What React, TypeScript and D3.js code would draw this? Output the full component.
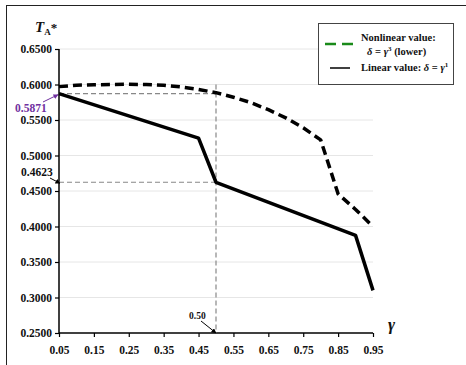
import React, { useEffect, useRef } from 'react';
import * as d3 from 'd3';

const linearX = [0.05, 0.45, 0.5, 0.9, 0.95];
const linearY = [0.5871, 0.5245, 0.4623, 0.3875, 0.31];

const nonlinearX = [0.05, 0.1, 0.15, 0.2, 0.25, 0.3, 0.35, 0.4, 0.45, 0.5, 0.55, 0.6, 0.65, 0.7, 0.75, 0.8, 0.85, 0.9, 0.95];
const nonlinearY = [0.597, 0.599, 0.5997, 0.6, 0.6003, 0.6, 0.599, 0.5965, 0.593, 0.5885, 0.582, 0.5745, 0.5645, 0.553, 0.539, 0.522, 0.446, 0.424, 0.4];

const xTicks = [0.05, 0.15, 0.25, 0.35, 0.45, 0.55, 0.65, 0.75, 0.85, 0.95];
const yTicks = [0.25, 0.3, 0.35, 0.4, 0.45, 0.5, 0.55, 0.6, 0.65];

const W = 466;
const H = 365;

const App: React.FC = () => {
  const svgRef = useRef<SVGSVGElement>(null);

  useEffect(() => {
    if (!svgRef.current) return;
    const svg = d3.select(svgRef.current);
    svg.selectAll('*').remove();

    const font = '"Liberation Serif", "Times New Roman", serif';
    const x = d3.scaleLinear().domain([0.05, 0.95]).range([59, 373]);
    const y = d3.scaleLinear().domain([0.25, 0.65]).range([333, 49]);

    // outer frame
    svg.append('rect')
      .attr('x', 6.5).attr('y', 5.5)
      .attr('width', W + 10).attr('height', H + 10)
      .attr('fill', '#fff').attr('stroke', '#222').attr('stroke-width', 1);

    // grid
    svg.append('g')
      .selectAll('line')
      .data(yTicks.slice(1))
      .enter()
      .append('line')
      .attr('x1', x(0.05)).attr('x2', x(0.95))
      .attr('y1', d => y(d)).attr('y2', d => y(d))
      .attr('stroke', '#e6e6e6').attr('stroke-width', 1);

    // axes
    const yAxis = svg.append('g')
      .attr('transform', `translate(${x(0.05)},0)`)
      .call(d3.axisLeft(y).tickValues(yTicks).tickSize(4).tickFormat(d => d3.format('.4f')(d as number)));
    const xAxis = svg.append('g')
      .attr('transform', `translate(0,${y(0.25)})`)
      .call(d3.axisBottom(x).tickValues(xTicks).tickSize(4).tickFormat(d => d3.format('.2f')(d as number)));
    [yAxis, xAxis].forEach(a => {
      a.select('.domain').attr('stroke', '#000').attr('stroke-width', 1.5);
      a.selectAll('.tick line').attr('stroke', '#000').attr('stroke-width', 1.2);
      a.selectAll('.tick text')
        .attr('font-family', font).attr('font-weight', 'bold')
        .attr('font-size', 11.5).attr('fill', '#111');
    });
    yAxis.select('.domain').attr('d', `M0,${y(0.65)}V${y(0.25)}`);
    yAxis.selectAll('.tick text').attr('x', -7);
    xAxis.select('.domain').attr('d', `M${x(0.05)},0H${x(0.95)}`);
    xAxis.selectAll('.tick text').attr('y', 13);

    // reference lines
    const ref = svg.append('g')
      .attr('stroke', '#888').attr('stroke-width', 1.2)
      .attr('stroke-dasharray', '5,3').attr('fill', 'none');
    ref.append('line')
      .attr('x1', x(0.05)).attr('x2', x(0.5))
      .attr('y1', y(0.5871)).attr('y2', y(0.5871));
    ref.append('line')
      .attr('x1', x(0.05)).attr('x2', x(0.5))
      .attr('y1', y(0.4623)).attr('y2', y(0.4623));
    ref.append('line')
      .attr('x1', x(0.5)).attr('x2', x(0.5))
      .attr('y1', y(0.6)).attr('y2', y(0.25));

    // series
    const line = d3.line<number>()
      .x((_, i) => x(linearX[i]))
      .y(d => y(d));
    svg.append('path')
      .datum(linearY)
      .attr('fill', 'none').attr('stroke', '#000')
      .attr('stroke-width', 3.5).attr('stroke-linejoin', 'round')
      .attr('d', line);

    const curve = d3.line<number>()
      .x((_, i) => x(nonlinearX[i]))
      .y(d => y(d));
    svg.append('path')
      .datum(nonlinearY)
      .attr('fill', 'none').attr('stroke', '#000')
      .attr('stroke-width', 3.5).attr('stroke-dasharray', '9,5')
      .attr('stroke-linejoin', 'round')
      .attr('d', curve);

    // arrow markers
    const defs = svg.append('defs');
    const marker = (id: string, color: string) =>
      defs.append('marker')
        .attr('id', id).attr('viewBox', '0 0 10 10')
        .attr('refX', 9).attr('refY', 5)
        .attr('markerWidth', 5).attr('markerHeight', 5)
        .attr('orient', 'auto')
        .append('path').attr('d', 'M0,0L10,5L0,10Z').attr('fill', color);
    marker('arrP', '#7030a0');
    marker('arrK', '#000');

    // annotations
    svg.append('line')
      .attr('x1', 43).attr('y1', 102).attr('x2', x(0.05) - 1).attr('y2', y(0.5871) + 1)
      .attr('stroke', '#7030a0').attr('stroke-width', 1).attr('marker-end', 'url(#arrP)');
    svg.append('text')
      .attr('x', 15).attr('y', 112)
      .attr('font-family', font).attr('font-weight', 'bold').attr('font-size', 11.5)
      .attr('fill', '#7030a0').text('0.5871');

    svg.append('line')
      .attr('x1', 50).attr('y1', 178).attr('x2', x(0.05) + 1).attr('y2', y(0.4623) + 1)
      .attr('stroke', '#000').attr('stroke-width', 1).attr('marker-end', 'url(#arrK)');
    svg.append('text')
      .attr('x', 21).attr('y', 176)
      .attr('font-family', font).attr('font-weight', 'bold').attr('font-size', 11.5)
      .attr('fill', '#111').text('0.4623');

    svg.append('line')
      .attr('x1', 201).attr('y1', 321).attr('x2', x(0.5)).attr('y2', y(0.25))
      .attr('stroke', '#000').attr('stroke-width', 1).attr('marker-end', 'url(#arrK)');
    svg.append('text')
      .attr('x', 189).attr('y', 319)
      .attr('font-family', font).attr('font-weight', 'bold').attr('font-size', 9.5)
      .attr('fill', '#111').text('0.50');

    // axis titles
    const yt = svg.append('text')
      .attr('x', 35).attr('y', 32)
      .attr('font-family', font).attr('font-weight', 'bold').attr('font-style', 'italic')
      .attr('font-size', 15).attr('fill', '#111');
    yt.append('tspan').text('T');
    yt.append('tspan').attr('font-size', 9).attr('dy', 3).attr('font-style', 'normal').text('A');
    yt.append('tspan').attr('font-size', 13).attr('dy', -3).attr('font-style', 'normal').text('*');

    svg.append('text')
      .attr('x', 388).attr('y', 330)
      .attr('font-family', font).attr('font-weight', 'bold').attr('font-style', 'italic')
      .attr('font-size', 17).attr('fill', '#111').text('γ');

    // legend
    const lg = svg.append('g');
    lg.append('rect')
      .attr('x', 318.5).attr('y', 23.5).attr('width', 135).attr('height', 61)
      .attr('fill', '#fff').attr('stroke', '#444').attr('stroke-width', 1);
    lg.append('line')
      .attr('x1', 325).attr('x2', 353).attr('y1', 44).attr('y2', 44)
      .attr('stroke', '#1a8a1a').attr('stroke-width', 2.5).attr('stroke-dasharray', '11,6');
    lg.append('line')
      .attr('x1', 330).attr('x2', 350).attr('y1', 68).attr('y2', 68)
      .attr('stroke', '#000').attr('stroke-width', 1.5);
    const lt = (tx: number, ty: number) =>
      lg.append('text').attr('x', tx).attr('y', ty)
        .attr('font-family', font).attr('font-weight', 'bold')
        .attr('font-size', 10.5).attr('fill', '#111');
    lt(361, 41).text('Nonlinear value:');
    const t2 = lt(367, 55);
    t2.append('tspan').attr('font-style', 'italic').text('δ');
    t2.append('tspan').text(' = ');
    t2.append('tspan').attr('font-style', 'italic').text('γ');
    t2.append('tspan').attr('font-size', 7).attr('dy', -4).text('3');
    t2.append('tspan').attr('dy', 4).text(' (lower)');
    const t3 = lt(361, 71);
    t3.append('tspan').text('Linear value: ');
    t3.append('tspan').attr('font-style', 'italic').text('δ');
    t3.append('tspan').text(' = ');
    t3.append('tspan').attr('font-style', 'italic').text('γ');
    t3.append('tspan').attr('font-size', 7).attr('dy', -4).text('1');
  }, []);

  return (
    <svg
      ref={svgRef}
      width={W}
      height={H}
      style={{ position: 'absolute', left: 0, top: 0, background: '#fff' }}
    />
  );
};

export default App;
